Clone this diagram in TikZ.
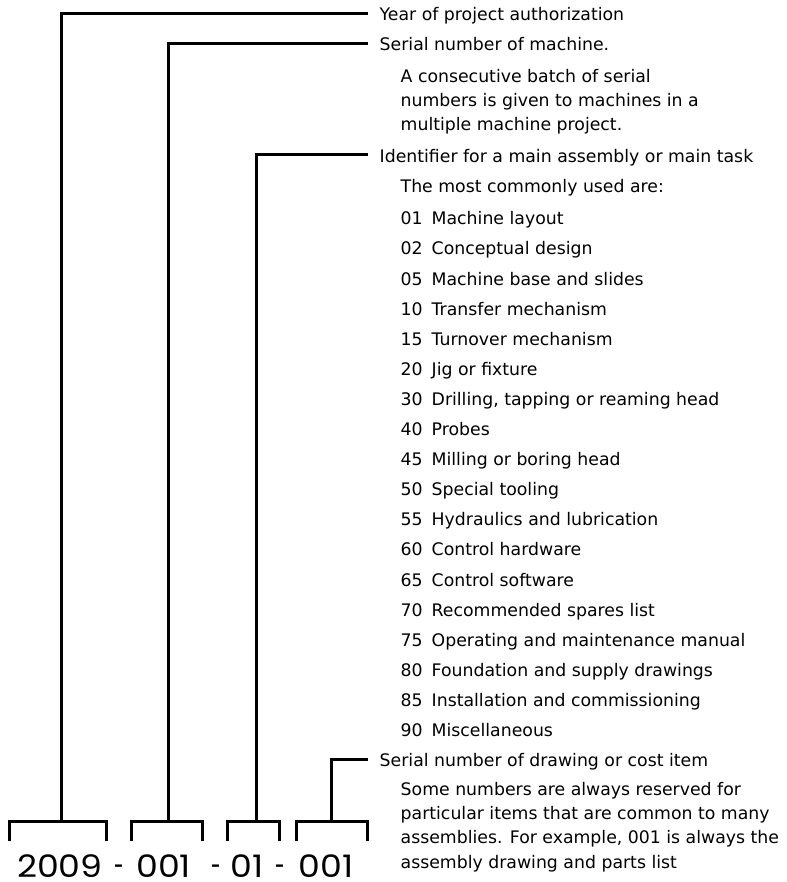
\documentclass[tikz,border=0pt]{standalone}
\usepackage{fontspec}
\usepackage{graphicx}
\setmainfont{DejaVu Sans}
\newfontfamily\codefont{Poppins}[FakeStretch=1.12]
\newcommand{\shortdash}[2]{\hspace{#1}\scalebox{0.5}[1]{-}\hspace{#2}}
\usepackage{tikz}

\begin{document}
\begin{tikzpicture}[x=1pt, y=-1pt,
    label/.style={anchor=west, inner xsep=11.5pt, inner ysep=0pt, text height=14.6pt, text depth=0pt, font=\fontsize{17.3}{24}\selectfont},
    desc/.style={anchor=base west, align=left, inner sep=0pt, font=\fontsize{17.3}{24}\selectfont},
    bracket/.style={line width=3pt, line join=miter}
]
    \useasboundingbox (0,0) rectangle (786,882);

    % Year of project authorization
    \node[label] (year) at (368,13.3) {Year of project authorization};

    % Serial number of machine (base = last line)
    \node[label] (mach) at (368,43.4) {Serial number of machine.};
    \node[desc] (machd) at (400.5,130.7) {A consecutive batch of serial \\
        numbers is given to machines in a \\
        multiple machine project.};

    % Main assembly or main task
    \node[label] (assy) at (368,155) {Identifier for a main assembly or main task};
    \node[desc] (assyd) at (400.5,193) {The most commonly used are:};
    \node[desc, font=\fontsize{17.3}{30.1}\selectfont] (codes) at (400.5,736.5) {
        \makebox[31pt][l]{01}Machine layout \\
        \makebox[31pt][l]{02}Conceptual design \\
        \makebox[31pt][l]{05}Machine base and slides \\
        \makebox[31pt][l]{10}Transfer mechanism \\
        \makebox[31pt][l]{15}Turnover mechanism \\
        \makebox[31pt][l]{20}Jig or fixture \\
        \makebox[31pt][l]{30}Drilling, tapping or reaming head \\
        \makebox[31pt][l]{40}Probes \\
        \makebox[31pt][l]{45}Milling or boring head \\
        \makebox[31pt][l]{50}Special tooling \\
        \makebox[31pt][l]{55}Hydraulics and lubrication \\
        \makebox[31pt][l]{60}Control hardware \\
        \makebox[31pt][l]{65}Control software \\
        \makebox[31pt][l]{70}Recommended spares list \\
        \makebox[31pt][l]{75}Operating and maintenance manual \\
        \makebox[31pt][l]{80}Foundation and supply drawings \\
        \makebox[31pt][l]{85}Installation and commissioning \\
        \makebox[31pt][l]{90}Miscellaneous
    };

    % Drawing or cost item
    \node[label] (item) at (368,759) {Serial number of drawing or cost item};
    \node[desc, font=\fontsize{17.3}{24.4}\selectfont] (itemd) at (400.5,868.3) {Some numbers are always reserved for \\
        particular items that are common to many \\
        assemblies. For example, 001 is always the \\
        assembly drawing and parts list};

    % Part number
    \node[anchor=base west, inner sep=0pt, font=\codefont\fontsize{31}{31}\selectfont] (num) at (17,877) {2009\shortdash{12pt}{12pt}001\shortdash{21pt}{9pt}01\shortdash{12pt}{14pt}001};

    % Brackets
    \draw[bracket] (9,841) |- (106,821) -- (106,841);
    \draw[bracket] (131,841) |- (202,821) -- (202,841);
    \draw[bracket] (227,841) |- (279,821) -- (279,841);
    \draw[bracket] (296,841) |- (367,821) -- (367,841);
    \coordinate (s1) at (61,821);
    \coordinate (s2) at (168,821);
    \coordinate (s3) at (256,821);
    \coordinate (s4) at (331,821);

    % Leaders
    \draw[bracket] (s1) |- (year.west);
    \draw[bracket] (s2) |- (mach.west);
    \draw[bracket] (s3) |- (assy.west);
    \draw[bracket] (s4) |- (item.west);
\end{tikzpicture}
\end{document}
